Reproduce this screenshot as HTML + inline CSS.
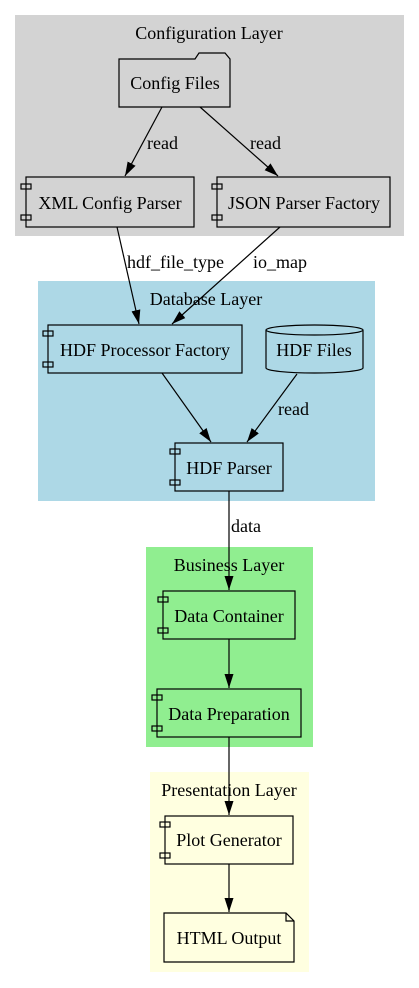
<!DOCTYPE html>
<html><head><meta charset="utf-8"><style>
html,body{margin:0;padding:0;background:#fff;}
svg{display:block;}
text{font-family:"Liberation Serif","Times New Roman",serif;font-size:18px;fill:#000;}
</style></head><body>
<svg width="419" height="988" viewBox="0 0 419 988" xmlns="http://www.w3.org/2000/svg">
<defs>
<marker id="ah" viewBox="0 0 14 10" refX="14" refY="5" markerWidth="14" markerHeight="10" markerUnits="userSpaceOnUse" orient="auto">
<path d="M0,0.5 L14,5 L0,9.5 Z" fill="#000"/>
</marker>
</defs>
<rect x="15" y="15" width="389" height="221" fill="#d3d3d3"/>
<text x="209" y="39" text-anchor="middle">Configuration Layer</text>
<rect x="38" y="281" width="337" height="220" fill="#add8e6"/>
<text x="206" y="305" text-anchor="middle">Database Layer</text>
<rect x="146" y="547" width="167" height="200" fill="#90ee90"/>
<text x="229" y="571" text-anchor="middle">Business Layer</text>
<rect x="150" y="772" width="159" height="200" fill="#ffffe0"/>
<text x="229" y="796" text-anchor="middle">Presentation Layer</text>

<g stroke="#000" stroke-width="1.2" fill="none">
<path d="M119,59 L195,59 L199,53 L225,53 L230,59 L230,107 L119,107 Z"/>
<rect x="26" y="177" width="168" height="50"/>
<rect x="21" y="184" width="10" height="5"/><rect x="21" y="215" width="10" height="5"/>
<rect x="217" y="177" width="173" height="50"/>
<rect x="212" y="184" width="10" height="5"/><rect x="212" y="215" width="10" height="5"/>
<rect x="48" y="325" width="194" height="48"/>
<rect x="43" y="331" width="10" height="5"/><rect x="43" y="362" width="10" height="5"/>
<path d="M266,330 L266,368 A48.5,5 0 0 0 363,368 L363,330 A48.5,5 0 0 0 266,330 A48.5,5 0 0 0 363,330"/>
<rect x="175" y="443" width="108" height="48"/>
<rect x="170" y="449" width="10" height="5"/><rect x="170" y="480" width="10" height="5"/>
<rect x="163" y="591" width="132" height="48"/>
<rect x="158" y="597" width="10" height="5"/><rect x="158" y="628" width="10" height="5"/>
<rect x="157" y="689" width="144" height="48"/>
<rect x="152" y="695" width="10" height="5"/><rect x="152" y="726" width="10" height="5"/>
<rect x="165" y="816" width="128" height="48"/>
<rect x="160" y="822" width="10" height="5"/><rect x="160" y="853" width="10" height="5"/>
<path d="M164,913 L286,913 L294,921 L294,962 L164,962 Z M286,913 L286,921 L294,921"/>
</g>

<g stroke="#000" stroke-width="1.2" fill="none" marker-end="url(#ah)">
<line x1="162" y1="107" x2="125" y2="176"/>
<line x1="200" y1="107" x2="278" y2="176"/>
<line x1="117" y1="227" x2="139" y2="324"/>
<line x1="280" y1="227" x2="172" y2="324"/>
<line x1="162" y1="373" x2="211" y2="442"/>
<line x1="297" y1="374" x2="247" y2="442"/>
<line x1="229" y1="491" x2="229" y2="590"/>
<line x1="229" y1="639" x2="229" y2="688"/>
<line x1="229" y1="737" x2="229" y2="815"/>
<line x1="229" y1="864" x2="229" y2="912"/>
</g>

<text x="175" y="89" text-anchor="middle">Config Files</text>
<text x="110" y="209" text-anchor="middle">XML Config Parser</text>
<text x="304" y="209" text-anchor="middle">JSON Parser Factory</text>
<text x="145" y="356" text-anchor="middle">HDF Processor Factory</text>
<text x="314" y="356" text-anchor="middle">HDF Files</text>
<text x="229" y="474" text-anchor="middle">HDF Parser</text>
<text x="229" y="622" text-anchor="middle">Data Container</text>
<text x="229" y="720" text-anchor="middle">Data Preparation</text>
<text x="229" y="846" text-anchor="middle">Plot Generator</text>
<text x="229" y="944" text-anchor="middle">HTML Output</text>

<text x="147" y="149">read</text>
<text x="250" y="149">read</text>
<text x="127" y="268">hdf_file_type</text>
<text x="253" y="268">io_map</text>
<text x="278" y="415">read</text>
<text x="231" y="532">data</text>
</svg>
</body></html>
